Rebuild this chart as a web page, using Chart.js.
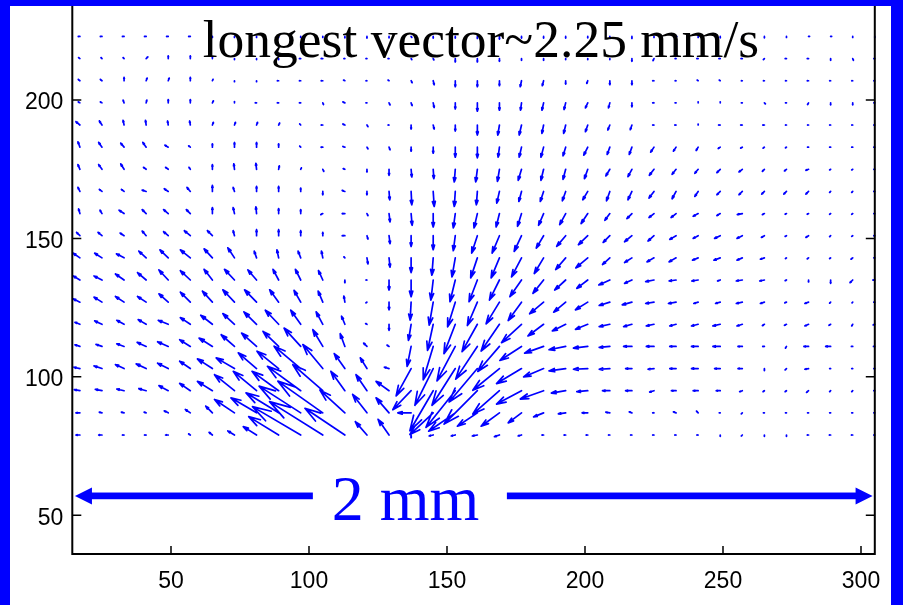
<!DOCTYPE html>
<html><head><meta charset="utf-8">
<script src="https://cdn.jsdelivr.net/npm/chart.js@4.4.0/dist/chart.umd.min.js"></script>
<style>
html,body{margin:0;padding:0;background:#0000ff;width:903px;height:605px;overflow:hidden}
#wrap{position:absolute;left:10px;top:6px;width:881px;height:599px;background:#fff}
canvas{display:block}
</style></head><body>
<div id="wrap"><canvas id="c" width="881" height="599"></canvas></div>
<script>
// grid positions (axis units)
const xGrid = [17,25,33,41,49,57,65,73,81,89,97,105,113,121,129,137,145,153,161,169,177,185,193,201,209,217,225,233,241,249,257,265,273,281,289,297,305];
const yGrid = [223,215,207,199,191,183,175,167,159,151,143,135,127,119,111,103,95,87,79];
const xTicks = [50,100,150,200,250,300];
const yTicks = [50,100,150,200];
// velocity components, one row per yGrid value
const U = [
[-5,-5,-5,-5,-5,-5,0,0,0,0,0,0, 0,0,0,2,0,0,0,0,0,0,0,0, 0,0,0,2,0,0,0,0,0,3,3,0,0],
[-4,-3,-3,5,0,0,0,0,0,0,-4,-5, -3,-3,-3,2,2,0,0,0,0,0,0,0, 0,0,-3,-3,-4,-4,-4,-3,-4,-4,0,2,-3],
[-5,-5,0,3,3,0,2,0,0,-4,-4,-5, -4,-3,-3,3,3,0,0,0,-4,-4,0,-3, 0,0,-4,-3,-3,-3,-3,-3,-3,-4,-3,-3,-3],
[-5,-5,-3,2,0,0,3,0,-4,-4,-4,2, -6,-3,3,3,3,0,0,0,-3,-5,-5,-7, -4,0,-4,-3,0,0,-3,3,-3,-3,0,0,-3],
[-12,-8,-3,-2,-2,-2,3,3,3,3,-3,-5, -6,3,-3,0,3,0,0,-5,-7,-5,-6,-7, -6,-5,-4,-4,0,-5,-5,-5,-3,-3,-3,-3,-3],
[-6,-10,-10,-10,-10,-5,0,0,0,0,-3,-5, -6,3,3,0,0,0,0,-4,-7,-8,-8,-12, -8,-8,-10,-8,-6,-6,-5,-4,-3,-3,-3,-3,-3],
[-6,-10,-10,-8,-8,-4,0,-2,-2,2,2,3, -5,0,0,2,2,-3,-5,-6,-10,-8,-8,-10, -12,-12,-14,-12,-10,-10,-10,-6,-6,-8,-3,-3,-3],
[-6,-8,-8,-12,-12,-10,0,-4,0,0,0,0, -8,0,2,2,3,-3,-3,-8,-8,-10,-10,-15, -10,-12,-15,-12,-10,-10,-10,-8,-8,-8,-3,-3,-3],
[-4,-6,-15,-12,-14,-12,0,-4,-2,0,0,-6, -8,3,3,3,0,-6,-10,-10,-12,-15,-18,-20, -15,-15,-15,-15,-15,-10,-15,-6,-4,-4,-3,-3,-3],
[-10,-12,-12,-12,-14,-18,-15,-4,0,0,0,0, -8,3,3,0,0,-6,-17,-22,-22,-22,-27,-28, -20,-22,-18,-19,-15,-17,-16,-9,-4,-8,-3,-3,-3],
[-20,-22,-23,-22,-25,-30,-25,-20,-7,-5,-8,-4, -3,3,3,0,-4,-10,-20,-25,-30,-28,-30,-36, -22,-22,-21,-21,-17,-19,-16,-12,-3,-4,-3,-5,-3],
[-20,-24,-26,-26,-28,-30,-25,-30,-26,-17,-16,-13, 0,-3,0,0,-7,-16,-25,-30,-35,-32,-33,-33, -33,-22,-25,-21,-19,-8,-18,-14,-4,0,0,-8,-6],
[-20,-24,-26,-26,-28,-30,-30,-35,-36,-27,-20,-14, -3,-3,0,-3,-12,-23,-30,-40,-40,-42,-36,-37, -32,-29,-25,-23,-13,-14,-18,-12,-5,-11,-3,-2,-3],
[-15,-22,-22,-24,-30,-30,-35,-35,-38,-40,-30,-20, -10,-4,0,-8,-17,-34,-46,-55,-60,-47,-40,-37, -32,-25,-23,-19,-20,-22,-16,-6,-6,-11,-5,-3,-5],
[-15,-18,-22,-27,-32,-32,-40,-40,-45,-47,-50,-30, -14,-10,-6,-12,-30,-55,-65,-65,-65,-57,-50,-43, -32,-25,-23,-19,-20,-22,-13,-5,-3,-14,-15,-4,-4],
[-18,-24,-26,-30,-32,-32,-45,-55,-55,-65,-80,-60, -32,-20,-14,-45,-55,-70,-85,-80,-75,-60,-50,-43, -32,-19,-18,-19,-20,-17,-13,0,-4,-11,-3,-3,-3],
[-17,-20,-22,-22,-28,-32,-45,-60,-70,-80,-100,-90, -42,-33,-39,-55,-70,-88,-100,-80,-75,-70,-43,-33, -22,-19,-13,-14,-15,-12,-8,-4,-4,-6,-3,-3,-3],
[-12,-8,-8,-6,-12,-15,-20,-60,-77,-98,-125,-135, -75,-43,-39,-40,-70,-80,-60,-55,-40,-30,-22,-17, -12,-8,-4,-8,-5,-3,-3,-3,-3,-3,-3,-3,-3],
[-12,-10,-5,-5,-8,-5,-10,-20,-40,-90,-145,-160, -120,-35,-33,0,-12,-12,-15,-15,-10,-5,-5,-5, -4,-4,-4,-4,-4,0,-3,0,0,-4,-4,-4,-3]
];
const V = [
[0,0,0,0,0,0,-3,-3,-3,-3,-3,-3, -4,-5,-4,-3,-5,-5,-6,-8,-5,-5,-5,-4, -5,-6,-3,0,-3,-4,-5,-4,-3,0,0,-3,-3],
[3,3,3,5,8,8,4,-3,-3,-3,0,0, 0,0,0,-3,-4,-10,-10,-8,-5,-5,-3,-3, -3,-8,-6,0,0,0,0,-3,0,0,-5,-5,0],
[4,4,10,8,8,10,4,-3,-3,0,0,0, 2,0,2,-6,-12,-18,-18,-15,-18,-15,-10,-8, -12,-12,0,0,2,2,0,0,0,0,0,0,0],
[3,3,8,8,10,10,6,4,0,0,0,-5, 3,0,-6,-8,-14,-18,-25,-22,-22,-22,-20,-15, -15,-12,0,0,3,3,0,-3,0,-5,-6,-6,0],
[10,12,14,14,12,12,8,8,8,6,3,0, 3,-5,0,-12,-12,-18,-30,-30,-30,-25,-25,-20, -15,-14,0,0,3,0,0,0,0,0,0,0,0],
[16,14,12,14,6,4,10,14,14,10,3,0, 2,-5,-8,-12,-18,-30,-32,-30,-30,-30,-26,-24, -22,-22,-15,-12,-10,-4,-3,-3,-2,0,0,0,0],
[14,14,16,6,6,6,14,16,18,10,4,-6, 2,-8,-18,-23,-28,-38,-38,-36,-33,-33,-30,-28, -20,-22,-18,-15,-12,-10,-8,-6,-5,-3,-2,-2,0],
[12,6,6,4,8,12,18,12,15,15,10,-10, 3,-10,-25,-40,-45,-45,-40,-35,-30,-30,-28,-25, -28,-25,-20,-22,-15,-10,-10,-8,-8,-8,-3,-3,0],
[14,10,10,12,12,12,18,18,20,15,12,-3, 0,-6,-25,-35,-40,-43,-43,-40,-38,-35,-33,-30, -20,-15,-12,-12,-8,-6,-3,-3,-2,-2,-2,-2,0],
[10,10,8,14,12,15,15,15,18,18,15,10, 0,-10,-24,-32,-42,-45,-52,-52,-47,-37,-32,-27, -20,-18,-16,-11,-8,-8,-8,-5,-2,-5,-3,-2,0],
[14,14,12,20,24,24,27,30,20,24,20,20, 3,-18,-28,-44,-52,-57,-60,-60,-57,-47,-35,-30, -20,-14,-12,-12,-7,-7,-7,-4,-2,-3,-2,-4,0],
[12,12,18,22,30,28,32,32,30,32,32,28, -8,0,-30,-50,-60,-65,-65,-60,-50,-40,-30,-25, -15,-10,-5,-3,-3,-3,-3,-3,-2,-6,-10,-8,0],
[10,15,17,17,25,30,33,37,37,37,35,33, 18,-2,-23,-54,-69,-74,-70,-65,-55,-35,-30,-23, -10,-8,-4,-4,-4,-4,-4,-4,-2,-4,-3,-2,0],
[6,10,12,14,12,20,27,32,37,42,42,37, 24,2,-18,-48,-78,-88,-82,-80,-55,-35,-20,-15, -7,-7,-5,-5,-5,-5,-5,-4,-3,-5,-3,-5,-2],
[5,6,8,12,14,20,25,35,40,45,55,50, 38,10,4,-60,-100,-103,-98,-75,-42,-20,-10,-5, -3,0,0,0,0,0,0,0,-5,0,0,0,0],
[4,8,12,14,16,22,29,32,47,52,67,72, 45,32,4,-82,-110,-110,-100,-65,-45,-25,-7,-2, -2,0,-2,0,0,0,0,-6,-4,-2,0,0,0],
[3,4,5,6,15,22,28,48,58,58,73,78, 58,48,28,-57,-120,-110,-100,-70,-40,-25,-7,-3, 0,0,-4,0,0,0,-3,-3,-3,-5,-3,-3,0],
[0,2,2,2,6,10,20,40,45,60,80,95, 68,55,45,0,-65,-55,-40,-40,-30,-12,-3,0, 2,3,0,3,5,0,-3,0,0,0,0,0,0],
[0,0,0,0,0,3,8,12,25,55,85,100, 80,40,47,-8,-3,-3,-3,-5,-3,0,0,0, 0,0,0,0,0,-4,-3,-4,-4,0,0,0,0]
];
const titleText = 'longest vector~2.25 mm/s';
const barLabel = '2 mm';

// ---- styling / layout constants ----
const ARROW_SCALE = 0.1206;   // axis units per velocity unit
const HEAD_A = 0.33, HEAD_B = 0.3;
const TITLE_POS = {x:162.3, y:215.7};
const BAR = {x0:15.2, x1:101.4, x2:171.7, x3:304.2, y:57.0, labelX:135.0, labelY:48.3};
const BLUE = '#0000ff';

const points = [];
yGrid.forEach((y,j)=>xGrid.forEach((x,i)=>points.push({x:x, y:y, u:U[j][i], v:V[j][i]})));

const quiverPlugin = {
  id:'quiver',
  afterDatasetsDraw(chart){
    const ctx = chart.ctx, xs = chart.scales.x, ys = chart.scales.y;
    ctx.save();
    ctx.strokeStyle = BLUE; ctx.lineWidth = 1.7; ctx.lineCap = 'round'; ctx.lineJoin = 'round';
    ctx.beginPath();
    chart.data.datasets[0].data.forEach(p=>{
      const x0 = xs.getPixelForValue(p.x), y0 = ys.getPixelForValue(p.y);
      const x1 = xs.getPixelForValue(p.x + p.u*ARROW_SCALE), y1 = ys.getPixelForValue(p.y + p.v*ARROW_SCALE);
      const dx = x1-x0, dy = y1-y0;
      ctx.moveTo(x0,y0); ctx.lineTo(x1,y1);
      ctx.moveTo(x1 - HEAD_A*(dx + HEAD_B*dy), y1 - HEAD_A*(dy - HEAD_B*dx));
      ctx.lineTo(x1,y1);
      ctx.lineTo(x1 - HEAD_A*(dx - HEAD_B*dy), y1 - HEAD_A*(dy + HEAD_B*dx));
    });
    ctx.stroke();
    ctx.restore();
  },
  afterDraw(chart){
    const ctx = chart.ctx, xs = chart.scales.x, ys = chart.scales.y, a = chart.chartArea;
    ctx.save();
    // axes box
    ctx.strokeStyle = '#000'; ctx.lineWidth = 2; ctx.lineCap = 'butt';
    ctx.beginPath();
    ctx.moveTo(a.left, 0); ctx.lineTo(a.left, a.bottom); ctx.lineTo(a.right, a.bottom); ctx.lineTo(a.right, 0);
    ctx.stroke();
    ctx.lineWidth = 1.5;
    ctx.beginPath();
    xTicks.forEach(t=>{const px = xs.getPixelForValue(t); ctx.moveTo(px, a.bottom); ctx.lineTo(px, a.bottom-8);});
    yTicks.forEach(t=>{const py = ys.getPixelForValue(t); ctx.moveTo(a.left, py); ctx.lineTo(a.left+9, py); ctx.moveTo(a.right, py); ctx.lineTo(a.right-9, py);});
    ctx.stroke();
    // title
    ctx.fillStyle = '#000';
    ctx.font = '53.5px "Liberation Serif", "Times New Roman", serif';
    ctx.textAlign = 'center'; ctx.textBaseline = 'alphabetic';
    ctx.fillText(titleText, xs.getPixelForValue(TITLE_POS.x), ys.getPixelForValue(TITLE_POS.y));
    // scale bar
    const by = ys.getPixelForValue(BAR.y);
    const p0 = xs.getPixelForValue(BAR.x0), p1 = xs.getPixelForValue(BAR.x1), p2 = xs.getPixelForValue(BAR.x2), p3 = xs.getPixelForValue(BAR.x3);
    const th = 6.7, hl = 17, hh = 8.5;
    ctx.fillStyle = BLUE;
    ctx.fillRect(p0+hl-1, by-th/2, p1-(p0+hl-1), th);
    ctx.fillRect(p2, by-th/2, (p3-hl+1)-p2, th);
    ctx.beginPath();
    ctx.moveTo(p0, by); ctx.lineTo(p0+hl, by-hh); ctx.lineTo(p0+hl, by+hh); ctx.closePath();
    ctx.moveTo(p3, by); ctx.lineTo(p3-hl, by-hh); ctx.lineTo(p3-hl, by+hh); ctx.closePath();
    ctx.fill();
    ctx.font = '64px "Liberation Serif", "Times New Roman", serif';
    ctx.fillText(barLabel, xs.getPixelForValue(BAR.labelX), ys.getPixelForValue(BAR.labelY));
    ctx.restore();
  }
};

const tickFont = {family:'"Liberation Sans", Arial, sans-serif', size:23};
new Chart(document.getElementById('c'), {
  type:'scatter',
  data:{datasets:[{data:points, pointRadius:0, pointHoverRadius:0, showLine:false}]},
  options:{
    responsive:false, animation:false, devicePixelRatio:1, events:[],
    layout:{padding:{left:0, right:16.2, top:0, bottom:0}},
    plugins:{legend:{display:false}, tooltip:{enabled:false}, title:{display:false}},
    scales:{
      x:{type:'linear', min:14.24, max:305,
        grid:{display:false, drawTicks:false}, border:{display:false},
        ticks:{font:tickFont, color:'#000', padding:14, maxRotation:0, autoSkip:false},
        afterBuildTicks:s=>{ s.ticks = xTicks.map(v=>({value:v})); },
        afterFit:s=>{ s.height = 51; s.paddingLeft = 0; s.paddingRight = 0; }
      },
      y:{type:'linear', min:36, max:234,
        grid:{display:false, drawTicks:false}, border:{display:false},
        ticks:{font:tickFont, color:'#000', padding:9, labelOffset:3, autoSkip:false},
        afterBuildTicks:s=>{ s.ticks = yTicks.map(v=>({value:v})); },
        afterFit:s=>{ s.width = 62.3; s.paddingTop = 0; s.paddingBottom = 0; }
      }
    }
  },
  plugins:[quiverPlugin]
});
</script>
</body></html>
